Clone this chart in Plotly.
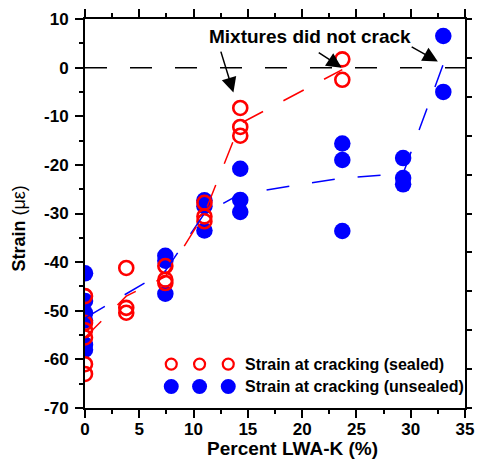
import plotly.graph_objects as go

# ---------------- data ----------------
sealed_x = [0, 0, 0, 0, 0, 0,
            3.8, 3.8, 3.8,
            7.4, 7.4, 7.4,
            11.0, 11.0, 11.0,
            14.3, 14.3, 14.3,
            23.7, 23.7]
sealed_y = [-47.0, -52.5, -54.0, -55.5, -61.0, -63.0,
            -41.2, -49.4, -50.4,
            -40.8, -43.6, -44.3,
            -27.8, -30.6, -31.6,
            -8.3, -12.2, -14.0,
            1.7, -2.5]

unsealed_x = [0, 0, 0, 0, 0, 0,
              7.4, 7.4, 7.4,
              11.0, 11.0, 11.0,
              14.3, 14.3, 14.3,
              23.7, 23.7, 23.7,
              29.3, 29.3, 29.3,
              33.0, 33.0]
unsealed_y = [-42.3, -48.0, -50.5, -52.0, -57.0, -58.0,
              -38.7, -39.7, -46.5,
              -27.3, -28.5, -33.5,
              -20.8, -27.2, -29.7,
              -15.6, -19.0, -33.6,
              -18.6, -22.7, -24.0,
              6.5, -5.0]

sealed_trend_x = [0, 3.8, 7.4, 11.0, 14.3, 23.7]
sealed_trend_y = [-55.5, -47.0, -43.0, -30.0, -11.5, -0.4]

unsealed_trend_x = [0, 7.4, 11.0, 14.3, 23.7, 29.3, 33.0]
unsealed_trend_y = [-51.5, -41.8, -30.0, -26.0, -22.7, -21.8, 0.7]

x_ticks = [0, 5, 10, 15, 20, 25, 30, 35]
y_ticks = [10, 0, -10, -20, -30, -40, -50, -60, -70]

legend_labels = ["Strain at cracking (sealed)", "Strain at cracking (unsealed)"]
note_text = "Mixtures did not crack"
# arrow tails and heads (data coords)
arrow_tail_x = [12.47, 21.39, 29.95]
arrow_tail_y = [3.6, 3.3, 4.46]
arrow_head_x = [13.67, 23.64, 32.5]
arrow_head_y = [-5.1, 0.0, 1.25]

RED = "#FF0000"
BLUE = "#0000FF"
FONT = "Liberation Sans, Arial, sans-serif"

fig = go.Figure()

fig.add_trace(go.Scatter(
    x=unsealed_x, y=unsealed_y, mode="markers",
    marker=dict(symbol="circle", size=16.5, color=BLUE, line=dict(width=0)),
    showlegend=False, hoverinfo="skip"))
fig.add_trace(go.Scatter(
    x=sealed_x, y=sealed_y, mode="markers",
    marker=dict(symbol="circle-open", size=14, color=RED, line=dict(width=2.6, color=RED)),
    showlegend=False, hoverinfo="skip"))
fig.add_trace(go.Scatter(
    x=unsealed_trend_x, y=unsealed_trend_y, mode="lines",
    line=dict(color=BLUE, width=1.5, dash="23px,23px"),
    showlegend=False, hoverinfo="skip"))
fig.add_trace(go.Scatter(
    x=sealed_trend_x, y=sealed_trend_y, mode="lines",
    line=dict(color=RED, width=1.5, dash="23px,23px"),
    showlegend=False, hoverinfo="skip"))
# dummy trace for the right-hand tick axis
fig.add_trace(go.Scatter(x=[None], y=[None], yaxis="y2", showlegend=False, hoverinfo="skip"))

# zero line
fig.add_shape(type="line", xref="x", yref="y", x0=0, x1=35, y0=0, y1=0,
              line=dict(color="black", width=1.5, dash="22px,23px"))

# legend markers (3 per row)
leg_x = [0.227, 0.3015, 0.377]
for xp in leg_x:
    fig.add_shape(type="circle", xref="paper", yref="paper",
                  xsizemode="pixel", ysizemode="pixel",
                  xanchor=xp, yanchor=0.1128,
                  x0=-5.5, x1=5.5, y0=-5.5, y1=5.5,
                  line=dict(color=RED, width=2.2), fillcolor="rgba(0,0,0,0)")
    fig.add_shape(type="circle", xref="paper", yref="paper",
                  xsizemode="pixel", ysizemode="pixel",
                  xanchor=xp, yanchor=0.0551,
                  x0=-7.5, x1=7.5, y0=-7.5, y1=7.5,
                  line=dict(color=BLUE, width=0), fillcolor=BLUE)

for txt, yp in zip(legend_labels, [0.1128, 0.0551]):
    fig.add_annotation(text=txt, xref="paper", yref="paper", x=0.4157, y=yp,
                       xanchor="left", yanchor="middle", showarrow=False,
                       font=dict(family=FONT, size=16, color="black", weight="bold"))

# note + arrows
fig.add_annotation(text=note_text, xref="x", yref="y", x=20.7, y=6.3,
                   xanchor="center", yanchor="middle", showarrow=False,
                   font=dict(family=FONT, size=19, color="black", weight="bold"))
for tx, ty, hx, hy in zip(arrow_tail_x, arrow_tail_y, arrow_head_x, arrow_head_y):
    fig.add_annotation(text="", x=hx, y=hy, ax=tx, ay=ty,
                       xref="x", yref="y", axref="x", ayref="y",
                       showarrow=True, arrowhead=2, arrowsize=2.0,
                       arrowwidth=1.5, arrowcolor="black", standoff=0)

# axis titles
fig.add_annotation(text="Percent LWA-K (%)", xref="paper", yref="paper",
                   x=0.547, y=-0.105, xanchor="center", yanchor="middle",
                   showarrow=False,
                   font=dict(family=FONT, size=19, color="black", weight="bold"))
fig.add_annotation(text="<b>Strain</b> (με)", xref="paper", yref="paper",
                   x=-0.1735, y=0.4615, xanchor="center", yanchor="middle",
                   textangle=-90, showarrow=False,
                   font=dict(family=FONT, size=18, color="black"))

axis_common = dict(showgrid=False, zeroline=False, showline=True,
                   linecolor="black", linewidth=2, ticks="outside",
                   tickcolor="black", tickwidth=1.5, ticklen=8)

fig.update_layout(
    width=483, height=460,
    margin=dict(l=85, r=9, t=18, b=52),
    paper_bgcolor="white", plot_bgcolor="white",
    font=dict(family=FONT, color="black"),
    xaxis=dict(range=[0, 35], tickmode="array", tickvals=x_ticks,
               ticktext=[str(v) for v in x_ticks], mirror="ticks",
               ticklabelstandoff=-3,
               tickfont=dict(family=FONT, size=17, weight="bold", color="black"),
               minor=dict(dtick=2.5, ticks="outside", ticklen=4, tickwidth=1.5,
                          tickcolor="black", showgrid=False),
               **axis_common),
    yaxis=dict(range=[-70, 10], tickmode="array", tickvals=y_ticks,
               ticktext=[str(v) for v in y_ticks], mirror=False,
               ticklabelstandoff=3,
               tickfont=dict(family=FONT, size=17, weight="bold", color="black"),
               minor=dict(dtick=5, ticks="outside", ticklen=4, tickwidth=1.5,
                          tickcolor="black", showgrid=False),
               **axis_common),
    yaxis2=dict(range=[0, 10], dtick=1, overlaying="y", side="right", anchor="x",
                showticklabels=False, showgrid=False, zeroline=False,
                showline=True, linecolor="black", linewidth=2,
                ticks="outside", ticklen=5, tickwidth=1.5, tickcolor="black"),
)

fig.write_html("out.html")
